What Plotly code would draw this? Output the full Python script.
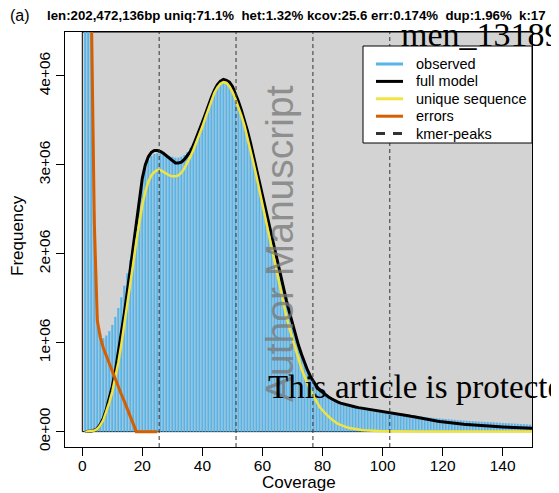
import plotly.graph_objects as go

# ---------------- data (frequencies in millions) ----------------
coverage = list(range(1, 151))

observed_M = [
    28.0, 12.0, 5.6, 2.45, 1.32, 1.10, 1.05, 1.08, 1.13, 1.20,
    1.29, 1.39, 1.51, 1.64, 1.78, 1.93, 2.12, 2.38, 2.62, 2.82,
    2.96, 3.05, 3.10, 3.12, 3.13, 3.13, 3.12, 3.11, 3.10, 3.09,
    3.08, 3.08, 3.09, 3.11, 3.14, 3.19, 3.25, 3.32, 3.40, 3.49,
    3.58, 3.67, 3.76, 3.83, 3.89, 3.92, 3.93, 3.92, 3.89, 3.84,
    3.77, 3.68, 3.58, 3.47, 3.35, 3.22, 3.07, 2.91, 2.75, 2.60,
    2.46, 2.32, 2.17, 2.02, 1.87, 1.73, 1.59, 1.45, 1.32, 1.20,
    1.08, 0.96, 0.86, 0.77, 0.69, 0.62, 0.56, 0.51, 0.47, 0.44,
    0.41, 0.39, 0.37, 0.355, 0.34, 0.325, 0.315, 0.305, 0.295, 0.29,
    0.283, 0.277, 0.27, 0.265, 0.26, 0.255, 0.25, 0.245, 0.24, 0.235,
    0.23, 0.225, 0.22, 0.215, 0.21, 0.205, 0.20, 0.195, 0.19, 0.185,
    0.18, 0.175, 0.17, 0.165, 0.16, 0.157, 0.154, 0.151, 0.148, 0.145,
    0.142, 0.139, 0.136, 0.133, 0.13, 0.127, 0.124, 0.122, 0.12, 0.118,
    0.116, 0.114, 0.112, 0.11, 0.108, 0.106, 0.104, 0.102, 0.10, 0.098,
    0.096, 0.094, 0.092, 0.09, 0.088, 0.086, 0.084, 0.082, 0.08, 0.078,
]

full_model_M = [
    0.0, 0.002, 0.006, 0.015, 0.035, 0.08, 0.15, 0.25, 0.37, 0.51,
    0.68, 0.88, 1.09, 1.33, 1.58, 1.84, 2.10, 2.38, 2.64, 2.85,
    3.00, 3.09, 3.14, 3.16, 3.16, 3.15, 3.13, 3.10, 3.07, 3.04,
    3.02, 3.02, 3.03, 3.06, 3.10, 3.15, 3.22, 3.30, 3.39, 3.48,
    3.57, 3.67, 3.76, 3.84, 3.90, 3.94, 3.96, 3.95, 3.93, 3.88,
    3.80, 3.71, 3.61, 3.50, 3.38, 3.25, 3.10, 2.94, 2.78, 2.63,
    2.49, 2.35, 2.20, 2.05, 1.90, 1.76, 1.61, 1.47, 1.34, 1.21,
    1.09, 0.97, 0.87, 0.77, 0.69, 0.62, 0.56, 0.51, 0.47, 0.44,
    0.41, 0.39, 0.37, 0.35, 0.335, 0.32, 0.31, 0.30, 0.29, 0.283,
    0.277, 0.27, 0.265, 0.26, 0.255, 0.25, 0.245, 0.24, 0.235, 0.23,
    0.225, 0.22, 0.214, 0.208, 0.202, 0.196, 0.19, 0.183, 0.176, 0.169,
    0.162, 0.155, 0.148, 0.142, 0.136, 0.13, 0.125, 0.12, 0.115, 0.11,
    0.105, 0.101, 0.097, 0.093, 0.089, 0.085, 0.082, 0.079, 0.076, 0.073,
    0.07, 0.068, 0.066, 0.064, 0.062, 0.06, 0.058, 0.056, 0.054, 0.052,
    0.05, 0.049, 0.047, 0.046, 0.045, 0.044, 0.042, 0.041, 0.04, 0.039,
]

unique_seq_M = [
    0.0, 0.002, 0.005, 0.012, 0.03, 0.07, 0.13, 0.22, 0.33, 0.45,
    0.60, 0.78, 0.98, 1.20, 1.43, 1.67, 1.90, 2.14, 2.36, 2.55,
    2.70, 2.81, 2.88, 2.92, 2.94, 2.94, 2.92, 2.90, 2.88, 2.87,
    2.87, 2.88, 2.91, 2.96, 3.02, 3.09, 3.17, 3.25, 3.34, 3.43,
    3.53, 3.63, 3.73, 3.81, 3.87, 3.91, 3.93, 3.92, 3.88, 3.82,
    3.74, 3.65, 3.55, 3.44, 3.31, 3.17, 3.02, 2.87, 2.71, 2.55,
    2.38, 2.22, 2.05, 1.89, 1.74, 1.59, 1.43, 1.29, 1.16, 1.04,
    0.92, 0.81, 0.71, 0.62, 0.53, 0.46, 0.40, 0.34, 0.28, 0.24,
    0.20, 0.17, 0.14, 0.11, 0.09, 0.075, 0.06, 0.05, 0.04, 0.033,
    0.027, 0.022, 0.018, 0.015, 0.012, 0.01, 0.008, 0.007, 0.006, 0.005,
    0.005, 0.004, 0.004, 0.004, 0.003, 0.003, 0.003, 0.003, 0.002, 0.002,
    0.002, 0.002, 0.002, 0.002, 0.002, 0.001, 0.001, 0.001, 0.001, 0.001,
    0.001, 0.001, 0.001, 0.001, 0.001, 0.001, 0.001, 0.001, 0.001, 0.001,
    0.001, 0.001, 0.001, 0.001, 0.001, 0.001, 0.001, 0.001, 0.001, 0.001,
    0.001, 0.001, 0.001, 0.001, 0.001, 0.001, 0.001, 0.001, 0.001, 0.001,
]

error_coverage = list(range(1, 26))
errors_M = [
    30.0, 10.5, 4.8, 2.35, 1.25, 1.06, 0.94, 0.85, 0.76, 0.68,
    0.59, 0.51, 0.42, 0.34, 0.25, 0.17, 0.085, 0.0, 0.0, 0.0,
    0.0, 0.0, 0.0, 0.0, 0.0,
]

kmer_peaks = [25.6, 51.2, 76.8, 102.4]

x_ticks = [0, 20, 40, 60, 80, 100, 120, 140]
y_ticks_M = [0, 1, 2, 3, 4]
y_tick_labels = ["0e+00", "1e+06", "2e+06", "3e+06", "4e+06"]

legend_labels = ["observed", "full model", "unique sequence", "errors", "kmer-peaks"]

title_left = "(a)"
title_main = ("len:202,472,136bp uniq:71.1%\u00a0 het:1.32% kcov:25.6 "
              "err:0.174%\u00a0 dup:1.96%\u00a0 k:17")

# ---------------- styles ----------------
C_OBS = "#56B4E9"
C_FULL = "#000000"
C_UNIQ = "#F0E442"
C_ERR = "#D55E00"
C_PEAK = "#333333"
C_BG = "#D3D3D3"
SANS = "Liberation Sans, Arial, sans-serif"
SERIF = "Liberation Serif, Times New Roman, serif"

# the page body has an 8px margin: the figure is drawn 8px right/down
OFF = 8
W, H = 559 - OFF, 493 - OFF
# plot box in screen pixels: x 65..532, y 32..447
SX0, SX1, SY0, SY1 = 65, 532, 32, 447
ML, MT = SX0 - OFF, SY0 - OFF
MR, MB = W - (SX1 - OFF), H - (SY1 - OFF)
PW, PH = SX1 - SX0, SY1 - SY0
XR = [-5.76, 149.76]
YR = [-0.1728e6, 4.4928e6]


def px(x):
    """screen x pixel -> paper coordinate"""
    return (x - SX0) / PW


def py(y):
    """screen y pixel -> paper coordinate"""
    return 1 - (y - SY0) / PH


M = 1e6
fig = go.Figure()

fig.add_trace(go.Bar(x=coverage, y=[v * M for v in observed_M], width=0.72,
                     marker=dict(color=C_OBS, line=dict(width=0)),
                     name="observed"))
fig.add_trace(go.Scatter(x=coverage, y=[v * M for v in full_model_M], mode="lines",
                         line=dict(color=C_FULL, width=3), name="full model"))
fig.add_trace(go.Scatter(x=coverage, y=[v * M for v in unique_seq_M], mode="lines",
                         line=dict(color=C_UNIQ, width=2.5), name="unique sequence"))
fig.add_trace(go.Scatter(x=error_coverage, y=[v * M for v in errors_M], mode="lines",
                         line=dict(color=C_ERR, width=3), name="errors"))

shapes = []
# grey background rectangle (from x=0, y=0)
shapes.append(dict(type="rect", xref="x", yref="y", x0=0, x1=max(coverage),
                   y0=0, y1=YR[1], fillcolor=C_BG, line=dict(color="black", width=1),
                   layer="below"))
# kmer peak lines
for p in kmer_peaks:
    shapes.append(dict(type="line", xref="x", yref="y domain", x0=p, x1=p, y0=0, y1=1,
                       line=dict(color=C_PEAK, width=1, dash="4px,3px"), layer="above"))

# legend box
LX0, LX1, LY0, LY1 = 363, 532, 46, 143
shapes.append(dict(type="rect", xref="paper", yref="paper", x0=px(LX0), x1=px(LX1),
                   y0=py(LY1), y1=py(LY0), fillcolor="white",
                   line=dict(color="black", width=1), layer="above"))
leg_colors = [C_OBS, C_FULL, C_UNIQ, C_ERR, C_PEAK]
leg_dash = ["solid", "solid", "solid", "solid", "9px,8px"]
annotations = []
for i, lab in enumerate(legend_labels):
    yy = 64 + i * 17.4
    shapes.append(dict(type="line", xref="paper", yref="paper", x0=px(376), x1=px(403),
                       y0=py(yy), y1=py(yy),
                       line=dict(color=leg_colors[i], width=3, dash=leg_dash[i]),
                       layer="above"))
    annotations.append(dict(text=lab, xref="paper", yref="paper", x=px(414), y=py(yy),
                            xanchor="left", yanchor="middle", showarrow=False,
                            font=dict(family=SANS, size=14.5, color="black")))

# titles
annotations.append(dict(text=title_left, xref="paper", yref="paper", x=px(8), y=py(15),
                        xanchor="left", yanchor="middle", showarrow=False,
                        font=dict(family=SANS, size=16, color="black")))
annotations.append(dict(text="<b>" + title_main + "</b>", xref="paper", yref="paper",
                        x=px(45), y=py(15), xanchor="left", yanchor="middle",
                        showarrow=False, font=dict(family=SANS, size=13.25, color="black")))
# axis titles
annotations.append(dict(text="Coverage", xref="paper", yref="paper", x=px(299), y=py(482),
                        xanchor="center", yanchor="middle", showarrow=False,
                        font=dict(family=SANS, size=17, color="black")))
annotations.append(dict(text="Frequency", xref="paper", yref="paper", x=px(17), y=py(236),
                        xanchor="center", yanchor="middle", showarrow=False, textangle=-90,
                        font=dict(family=SANS, size=17, color="black")))
# overlaid manuscript texts
annotations.append(dict(text="Author Manuscript", xref="paper", yref="paper", x=px(279),
                        y=py(244), xanchor="center", yanchor="middle", showarrow=False,
                        textangle=-90,
                        font=dict(family=SANS, size=39, color="rgba(120,120,120,0.75)")))
annotations.append(dict(text="men_13189", xref="paper", yref="paper", x=px(399), y=py(34),
                        xanchor="left", yanchor="middle", showarrow=False,
                        font=dict(family=SERIF, size=34, color="black")))
annotations.append(dict(text="This article is protected by copyright. All rights reserved",
                        xref="paper", yref="paper", x=px(266), y=py(387),
                        xanchor="left", yanchor="middle", showarrow=False,
                        font=dict(family=SERIF, size=33, color="black")))

fig.update_layout(
    width=W, height=H, margin=dict(l=ML, r=MR, t=MT, b=MB, pad=0, autoexpand=False),
    paper_bgcolor="white", plot_bgcolor="white", showlegend=False,
    font=dict(family=SANS, size=15.5, color="black"),
    shapes=shapes, annotations=annotations,
    xaxis=dict(range=XR, tickvals=x_ticks, ticks="outside", ticklen=8, tickwidth=1,
               tickcolor="black", showgrid=False, zeroline=False, showline=True,
               mirror=True, linecolor="black", linewidth=1, automargin=False,
               ticklabelstandoff=-4, tickfont=dict(family=SANS, size=15.5)),
    yaxis=dict(range=YR, tickvals=[v * M for v in y_ticks_M], ticktext=y_tick_labels,
               tickangle=-90, ticks="outside", ticklen=8, tickwidth=1, tickcolor="black",
               showgrid=False, zeroline=False, showline=True, mirror=True,
               linecolor="black", linewidth=1, automargin=False,
               tickfont=dict(family=SANS, size=15.5)),
)

fig.write_html("out.html")
